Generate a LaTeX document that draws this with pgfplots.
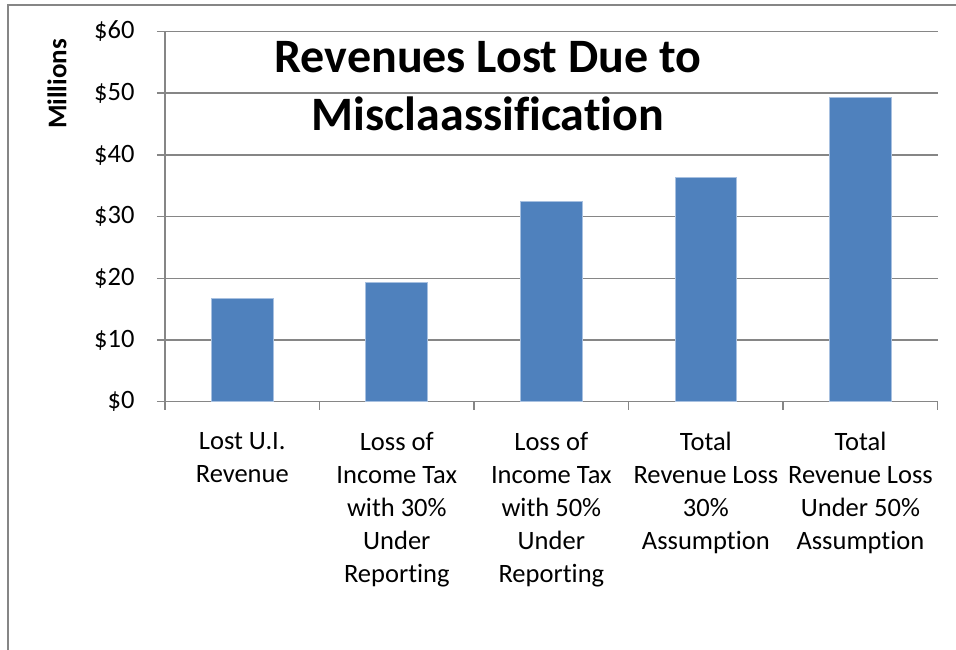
\documentclass[border=0pt]{standalone}
\usepackage{pgfplots}
\pgfplotsset{compat=1.18}
\usepackage{fontspec}
\setmainfont{Carlito}[Ligatures=CommonOff]
\definecolor{barblue}{HTML}{4F81BD}
\definecolor{baredge}{HTML}{A7C0E0}
\definecolor{gridgray}{HTML}{868686}
\begin{document}
\begin{tikzpicture}[x=1pt,y=1pt]
\useasboundingbox (0,0) rectangle (956,649);
\draw[gridgray, line width=2.5pt] (8,-20) -- (8,644) -- (990,644);
\begin{axis}[
  at={(165pt,247.3pt)}, anchor=south west,
  scale only axis, width=772.7pt, height=370.2pt,
  xmin=-0.5, xmax=4.5, ymin=0, ymax=60,
  axis x line*=bottom, axis y line*=left,
  axis line style={-, gridgray, line width=1.5pt},
  ymajorgrids, grid style={gridgray, line width=1.5pt},
  tick align=outside, major tick length=8pt,
  tick style={gridgray, line width=1.5pt},
  ytick={0,10,...,60},
  yticklabels={\$0,\$10,\$20,\$30,\$40,\$50,\$60},
  xtick={-0.5,0.5,1.5,2.5,3.5,4.5},
  xticklabels={},
  extra x ticks={0,1,2,3,4},
  extra x tick labels={{Lost U.I.\\Revenue},{Loss of\\Income Tax\\with 30\%\\Under\\Reporting},{Loss of\\Income Tax\\with 50\%\\Under\\Reporting},{Total\\Revenue Loss\\30\%\\Assumption},{Total\\Revenue Loss\\Under 50\%\\Assumption}},
  extra x tick style={major tick length=0pt, grid=none,
     xticklabel style={align=center, anchor=north, yshift=-27pt}},
  tick label style={font=\fontsize{26.5}{33}\selectfont, text=black},
  yticklabel style={xshift=-19pt},
]
\addplot[ybar, bar width=61.7pt, fill=barblue, draw=baredge, line width=1pt]
  coordinates {(0,16.8) (1,19.4) (2,32.4) (3,36.3) (4,49.3)};
\end{axis}
\node[align=center, font=\fontsize{48}{58}\selectfont\bfseries] at (488,563) {Revenues Lost Due to\\Misclaassification};
\node[rotate=90, font=\fontsize{27}{30}\selectfont\bfseries] at (57,565) {Millions};
\end{tikzpicture}
\end{document}
